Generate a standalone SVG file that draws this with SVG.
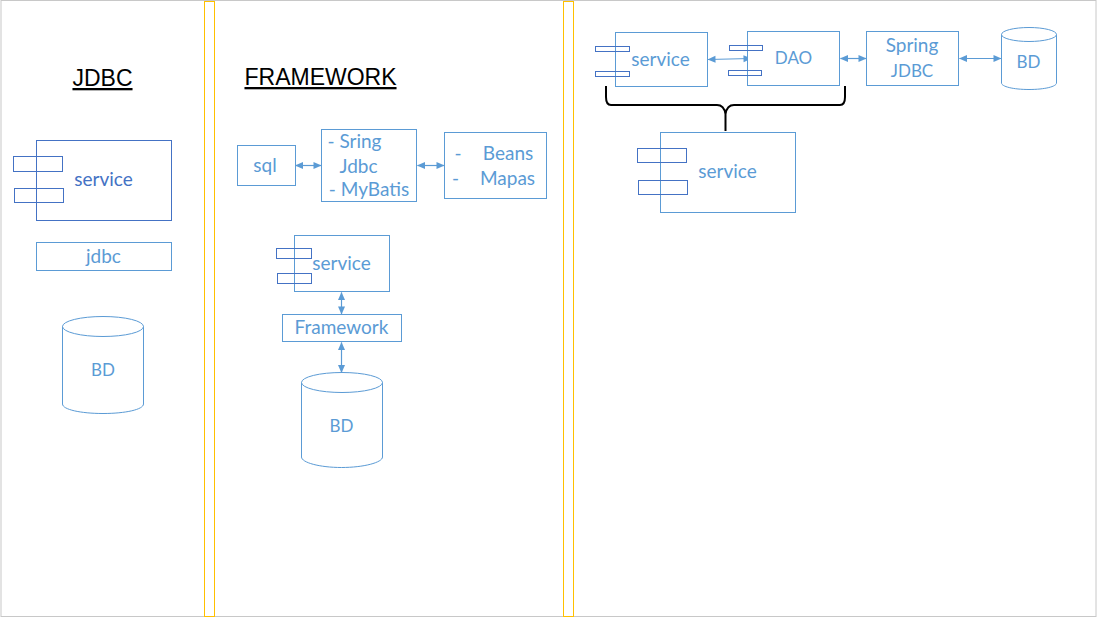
<svg xmlns="http://www.w3.org/2000/svg" width="1098" height="617" viewBox="0 0 1098 617">
<style>
.b{fill:#fff;stroke:#5b9bd5;stroke-width:1}
.d{fill:none;stroke:#4472c4;stroke-width:1}
.y{fill:#fff;stroke:#ffc000;stroke-width:1}
.t{font-family:Lato,"Open Sans",sans-serif;font-size:19px;fill:#5b9bd5;text-anchor:middle}
.k{font-size:17px}
.h{font-family:"Liberation Sans",Arial,sans-serif;font-size:23px;fill:#000;text-anchor:middle;text-decoration:underline}
.c{fill:none;stroke:#5b9bd5;stroke-width:1.2;marker-start:url(#a);marker-end:url(#a)}
</style>
<defs>
<marker id="a" viewBox="0 0 8 8" refX="7.500" refY="4" markerWidth="9" markerHeight="8" markerUnits="userSpaceOnUse" orient="auto-start-reverse"><path d="M0 0.500L8 4L0 7.500Z" fill="#5b9bd5"/></marker>
</defs>
<rect width="1098" height="617" fill="#fff"/>
<rect x="1" y="0.500" width="1095" height="616" fill="#fff" stroke="#c8c8c8" stroke-width="1"/>
<g id="panel-dividers">
<rect class="y" x="204.500" y="1.500" width="10" height="615"/>
<rect class="y" x="563.500" y="1.500" width="10" height="615"/>
</g>
<g id="title-jdbc"><text class="h" x="102.500" y="86">JDBC</text></g>
<g id="title-framework"><text class="h" x="320.500" y="85">FRAMEWORK</text></g>
<g id="connectors">
<path class="c" d="M295.500 165.500H321"/>
<path class="c" d="M417.500 165.500H444"/>
<path class="c" d="M341.500 292.500V314"/>
<path class="c" d="M341.500 342.500V372.500"/>
<path class="c" d="M708 59.500L751 58.500"/>
<path class="c" d="M840.500 58.500H866"/>
<path class="c" d="M959.500 58.500H1001"/>
</g>
<g id="jdbc-service">
<rect x="36.500" y="140.500" width="135" height="80" fill="#fff" stroke="#4472c4"/>
<rect class="d" x="13.500" y="156.500" width="49" height="15"/>
<rect class="d" x="14.500" y="188.500" width="49" height="14"/>
<text class="t" x="103.500" y="186" style="fill:#4472c4">service</text>
</g>
<g id="jdbc-box"><rect class="b" x="36.500" y="242.500" width="135" height="28"/><text class="t" x="103.500" y="263">jdbc</text></g>
<g id="jdbc-bd">
<path class="b" d="M62.500 326.500V404C62.500 409.500 80.500 413.500 103 413.500S143.500 409.500 143.500 404V326.500Z"/>
<ellipse class="b" cx="103" cy="326.500" rx="40.500" ry="10"/>
<text class="t k" x="103" y="375.500">BD</text>
</g>
<g id="fw-sql"><rect class="b" x="237.500" y="145.500" width="58" height="40"/><text class="t" x="265" y="172">sql</text></g>
<g id="fw-libs">
<rect class="b" x="321.500" y="129.500" width="95" height="72"/>
<text class="t" x="354.500" y="148">- Sring</text>
<text class="t" x="358.500" y="173">Jdbc</text>
<text class="t" x="369" y="196">- MyBatis</text>
</g>
<g id="fw-maps">
<rect class="b" x="444.500" y="132.500" width="102" height="66"/>
<text class="t" x="458" y="160">-</text><text class="t" x="508" y="160">Beans</text>
<text class="t" x="455.500" y="185">-</text><text class="t" x="507.500" y="185">Mapas</text>
</g>
<g id="fw-service">
<rect class="b" x="294.500" y="235.500" width="95" height="56"/>
<rect class="d" x="276.500" y="248.500" width="35" height="10"/>
<rect class="d" x="277.500" y="273.500" width="34" height="10"/>
<text class="t" x="341.500" y="270">service</text>
</g>
<g id="fw-framework"><rect class="b" x="282.500" y="314.500" width="119" height="27"/><text class="t" x="341.500" y="334">Framework</text></g>
<g id="fw-bd">
<path class="b" d="M301.500 382.500V457C301.500 462.500 319.500 467.500 341.500 467.500S382.500 462.500 382.500 457V382.500Z"/>
<ellipse class="b" cx="342" cy="382.500" rx="40.500" ry="10"/>
<text class="t k" x="341.500" y="431.500">BD</text>
</g>
<g id="right-service-top">
<rect class="b" x="615.500" y="32.500" width="92" height="54"/>
<rect class="d" x="595.500" y="46.500" width="34" height="5"/>
<rect class="d" x="595.500" y="71.500" width="34" height="5"/>
<text class="t" x="660.500" y="66">service</text>
</g>
<g id="right-dao">
<rect class="b" x="747.500" y="31.500" width="92" height="54"/>
<rect class="d" x="729.500" y="45.500" width="33" height="5"/>
<rect class="d" x="728.500" y="70.500" width="33" height="5"/>
<text class="t k" x="793.500" y="64">DAO</text>
</g>
<g id="right-spring">
<rect class="b" x="866.500" y="31.500" width="92" height="54"/>
<text class="t" x="912" y="52">Spring</text>
<text class="t k" x="912" y="76.500">JDBC</text>
</g>
<g id="right-bd">
<path class="b" d="M1001.500 34.500V83C1001.500 86.500 1013 89.500 1029 89.500S1056.500 86.500 1056.500 83V34.500Z"/>
<ellipse class="b" cx="1029" cy="34.500" rx="27.500" ry="7"/>
<text class="t k" x="1028.500" y="67.500">BD</text>
</g>
<g id="brace"><path d="M606 86V97Q606 105 611 105H717Q724 105 725.500 114Q727 105 734 105H840Q845 105 845 97V86M725.500 112V131" fill="none" stroke="#000" stroke-width="2"/></g>
<g id="right-service-bottom">
<rect class="b" x="660.500" y="132.500" width="135" height="80"/>
<rect class="d" x="637.500" y="148.500" width="49" height="14"/>
<rect class="d" x="638.500" y="180.500" width="49" height="14"/>
<text class="t" x="727.500" y="178">service</text>
</g>
</svg>
